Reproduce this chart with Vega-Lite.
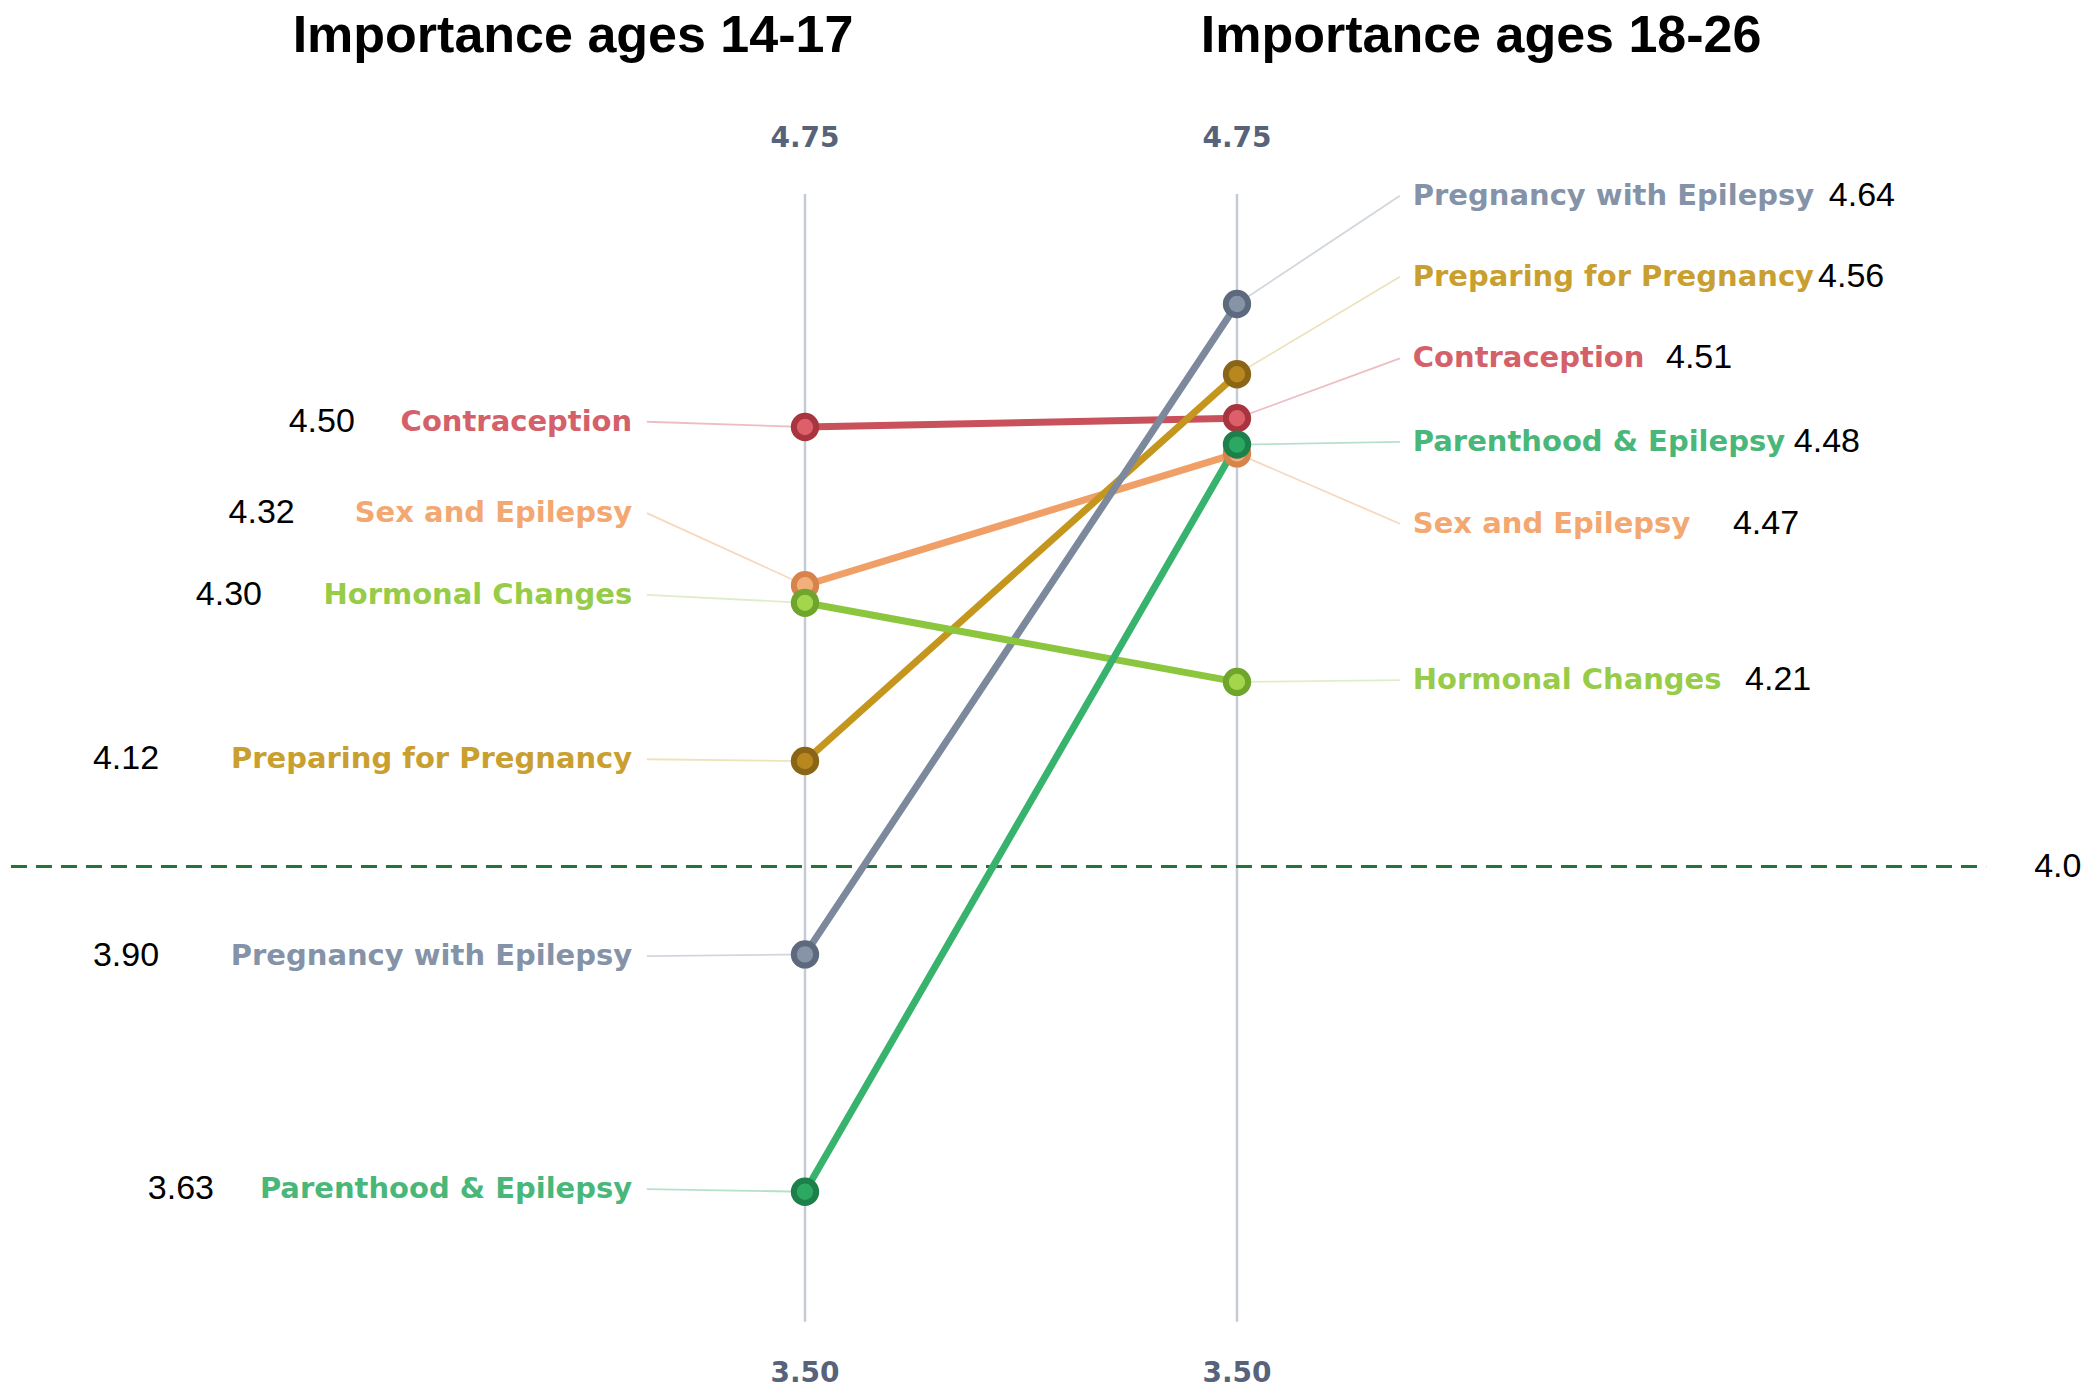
{
  "$schema": "https://vega.github.io/schema/vega-lite/v6.json",
  "autosize": {"type": "fit", "contains": "padding"},
  "width": 2100,
  "height": 1399,
  "padding": 0,
  "background": "white",
  "config": {"view": {"stroke": null}},
  "datasets": {
    "scores": [
      {"topic": "Contraception", "age": "14-17", "pos": 0, "score": 4.50, "labelScore": 4.506, "numPos": -1.042},
      {"topic": "Sex and Epilepsy", "age": "14-17", "pos": 0, "score": 4.32, "labelScore": 4.402, "numPos": -1.181},
      {"topic": "Preparing for Pregnancy", "age": "14-17", "pos": 0, "score": 4.12, "labelScore": 4.122, "numPos": -1.495},
      {"topic": "Pregnancy with Epilepsy", "age": "14-17", "pos": 0, "score": 3.90, "labelScore": 3.898, "numPos": -1.495},
      {"topic": "Hormonal Changes", "age": "14-17", "pos": 0, "score": 4.30, "labelScore": 4.309, "numPos": -1.257},
      {"topic": "Parenthood & Epilepsy", "age": "14-17", "pos": 0, "score": 3.63, "labelScore": 3.633, "numPos": -1.368},
      {"topic": "Contraception", "age": "18-26", "pos": 1, "score": 4.51, "labelScore": 4.578, "numPos": 1.993},
      {"topic": "Sex and Epilepsy", "age": "18-26", "pos": 1, "score": 4.47, "labelScore": 4.390, "numPos": 2.148},
      {"topic": "Preparing for Pregnancy", "age": "18-26", "pos": 1, "score": 4.56, "labelScore": 4.671, "numPos": 2.345},
      {"topic": "Pregnancy with Epilepsy", "age": "18-26", "pos": 1, "score": 4.64, "labelScore": 4.763, "numPos": 2.370},
      {"topic": "Hormonal Changes", "age": "18-26", "pos": 1, "score": 4.21, "labelScore": 4.212, "numPos": 2.176},
      {"topic": "Parenthood & Epilepsy", "age": "18-26", "pos": 1, "score": 4.48, "labelScore": 4.483, "numPos": 2.289}
    ],
    "titles": [
      {"label": "Importance ages 14-17", "pos": -0.537, "score": 4.945},
      {"label": "Importance ages 18-26", "pos": 1.565, "score": 4.945}
    ],
    "axes": [
      {"pos": 0, "lo": 3.482, "hi": 4.765},
      {"pos": 1, "lo": 3.482, "hi": 4.765}
    ],
    "axisLabels": [
      {"pos": 0, "score": 4.828, "label": "4.75"},
      {"pos": 1, "score": 4.828, "label": "4.75"},
      {"pos": 0, "score": 3.423, "label": "3.50"},
      {"pos": 1, "score": 3.423, "label": "3.50"}
    ],
    "threshold": [
      {"score": 4.0, "from": -1.838, "to": 2.734, "label": "4.0", "labelPos": 2.9}
    ]
  },
  "encoding": {
    "x": {"field": "pos", "type": "quantitative", "scale": {"domain": [-1.8634, 2.9977], "nice": false, "zero": false}, "axis": null},
    "y": {"field": "score", "type": "quantitative", "scale": {"domain": [3.3942, 4.9858], "nice": false, "zero": false}, "axis": null}
  },
  "layer": [
    {
      "data": {"name": "axes"},
      "mark": {"type": "rule", "color": "#c5cad3", "strokeWidth": 2.5},
      "encoding": {
        "y": {"field": "lo", "type": "quantitative"},
        "y2": {"field": "hi"}
      }
    },
    {
      "data": {"name": "axisLabels"},
      "mark": {"type": "text", "font": "DejaVu Sans", "fontWeight": "bold", "fontSize": 28, "color": "#56637a", "align": "center", "baseline": "middle"},
      "encoding": {"text": {"field": "label"}}
    },
    {
      "data": {"name": "titles"},
      "mark": {"type": "text", "font": "Liberation Sans", "fontWeight": "bold", "fontSize": 52, "color": "#000000", "align": "center", "baseline": "middle"},
      "encoding": {"text": {"field": "label"}}
    },
    {
      "data": {"name": "threshold"},
      "mark": {"type": "rule", "color": "#22743a", "strokeWidth": 3, "strokeDash": [16, 9]},
      "encoding": {
        "x": {"field": "from", "type": "quantitative"},
        "x2": {"field": "to"}
      }
    },
    {
      "data": {"name": "threshold"},
      "mark": {"type": "text", "font": "Liberation Sans", "fontSize": 34, "color": "#000000", "align": "center", "baseline": "middle"},
      "encoding": {
        "x": {"field": "labelPos", "type": "quantitative"},
        "text": {"field": "label"}
      }
    },
    {
      "data": {"name": "scores"},
      "transform": [{"filter": "datum.pos == 0"}],
      "mark": {"type": "rule", "strokeWidth": 1.8, "opacity": 0.65},
      "encoding": {
        "x": {"datum": -0.366, "type": "quantitative"},
        "y": {"field": "labelScore", "type": "quantitative"},
        "x2": {"field": "pos"},
        "y2": {"field": "score"},
        "color": {"field": "topic", "type": "nominal", "legend": null,
          "scale": {"domain": ["Contraception", "Sex and Epilepsy", "Preparing for Pregnancy", "Pregnancy with Epilepsy", "Hormonal Changes", "Parenthood & Epilepsy"],
                    "range": ["#e39aa2", "#f3c39c", "#e2d49a", "#b9c0cc", "#cfe3ad", "#8fcfac"]}}
      }
    },
    {
      "data": {"name": "scores"},
      "transform": [{"filter": "datum.pos == 1"}],
      "mark": {"type": "rule", "strokeWidth": 1.8, "opacity": 0.65},
      "encoding": {
        "x": {"field": "pos", "type": "quantitative"},
        "x2": {"datum": 1.377},
        "y2": {"field": "labelScore"},
        "color": {"field": "topic", "type": "nominal", "legend": null,
          "scale": {"domain": ["Contraception", "Sex and Epilepsy", "Preparing for Pregnancy", "Pregnancy with Epilepsy", "Hormonal Changes", "Parenthood & Epilepsy"],
                    "range": ["#e39aa2", "#f3c39c", "#e2d49a", "#b9c0cc", "#cfe3ad", "#8fcfac"]}}
      }
    },
    {
      "data": {"name": "scores"},
      "mark": {"type": "line", "strokeWidth": 7},
      "encoding": {
        "color": {"field": "topic", "type": "nominal", "legend": null,
          "scale": {"domain": ["Contraception", "Sex and Epilepsy", "Preparing for Pregnancy", "Pregnancy with Epilepsy", "Hormonal Changes", "Parenthood & Epilepsy"],
                    "range": ["#c9515b", "#f0a066", "#c4961d", "#7c889c", "#8cc63e", "#38b36e"]}}
      }
    },
    {
      "data": {"name": "scores"},
      "mark": {"type": "point", "shape": "circle", "filled": true, "size": 500, "strokeWidth": 6, "opacity": 1},
      "encoding": {
        "fill": {"field": "topic", "type": "nominal", "legend": null,
          "scale": {"domain": ["Contraception", "Sex and Epilepsy", "Preparing for Pregnancy", "Pregnancy with Epilepsy", "Hormonal Changes", "Parenthood & Epilepsy"],
                    "range": ["#dd5f6a", "#f4b07c", "#b8871d", "#8793a7", "#a3d64a", "#2ca862"]}},
        "stroke": {"field": "topic", "type": "nominal", "legend": null,
          "scale": {"domain": ["Contraception", "Sex and Epilepsy", "Preparing for Pregnancy", "Pregnancy with Epilepsy", "Hormonal Changes", "Parenthood & Epilepsy"],
                    "range": ["#a8343f", "#d8834c", "#8a6417", "#5d697d", "#6fa42d", "#1d7f4a"]}}
      }
    },
    {
      "data": {"name": "scores"},
      "transform": [{"filter": "datum.pos == 0"}],
      "mark": {"type": "text", "font": "DejaVu Sans", "fontWeight": "bold", "fontSize": 29, "align": "right", "baseline": "middle"},
      "encoding": {
        "x": {"datum": -0.4, "type": "quantitative"},
        "y": {"field": "labelScore", "type": "quantitative"},
        "text": {"field": "topic"},
        "color": {"field": "topic", "type": "nominal", "legend": null,
          "scale": {"domain": ["Contraception", "Sex and Epilepsy", "Preparing for Pregnancy", "Pregnancy with Epilepsy", "Hormonal Changes", "Parenthood & Epilepsy"],
                    "range": ["#d4606a", "#f3a771", "#c9a030", "#8593a8", "#97cc48", "#49b77a"]}}
      }
    },
    {
      "data": {"name": "scores"},
      "transform": [{"filter": "datum.pos == 1"}],
      "mark": {"type": "text", "font": "DejaVu Sans", "fontWeight": "bold", "fontSize": 29, "align": "left", "baseline": "middle"},
      "encoding": {
        "x": {"datum": 1.407, "type": "quantitative"},
        "y": {"field": "labelScore", "type": "quantitative"},
        "text": {"field": "topic"},
        "color": {"field": "topic", "type": "nominal", "legend": null,
          "scale": {"domain": ["Contraception", "Sex and Epilepsy", "Preparing for Pregnancy", "Pregnancy with Epilepsy", "Hormonal Changes", "Parenthood & Epilepsy"],
                    "range": ["#d4606a", "#f3a771", "#c9a030", "#8593a8", "#97cc48", "#49b77a"]}}
      }
    },
    {
      "data": {"name": "scores"},
      "transform": [{"filter": "datum.pos == 0"}],
      "mark": {"type": "text", "font": "Liberation Sans", "fontSize": 34, "color": "#000000", "align": "right", "baseline": "middle"},
      "encoding": {
        "x": {"field": "numPos", "type": "quantitative"},
        "y": {"field": "labelScore", "type": "quantitative"},
        "text": {"field": "score", "type": "quantitative", "format": ".2f"}
      }
    },
    {
      "data": {"name": "scores"},
      "transform": [{"filter": "datum.pos == 1"}],
      "mark": {"type": "text", "font": "Liberation Sans", "fontSize": 34, "color": "#000000", "align": "left", "baseline": "middle"},
      "encoding": {
        "x": {"field": "numPos", "type": "quantitative"},
        "y": {"field": "labelScore", "type": "quantitative"},
        "text": {"field": "score", "type": "quantitative", "format": ".2f"}
      }
    }
  ],
  "resolve": {"scale": {"color": "independent", "fill": "independent", "stroke": "independent"}}
}
